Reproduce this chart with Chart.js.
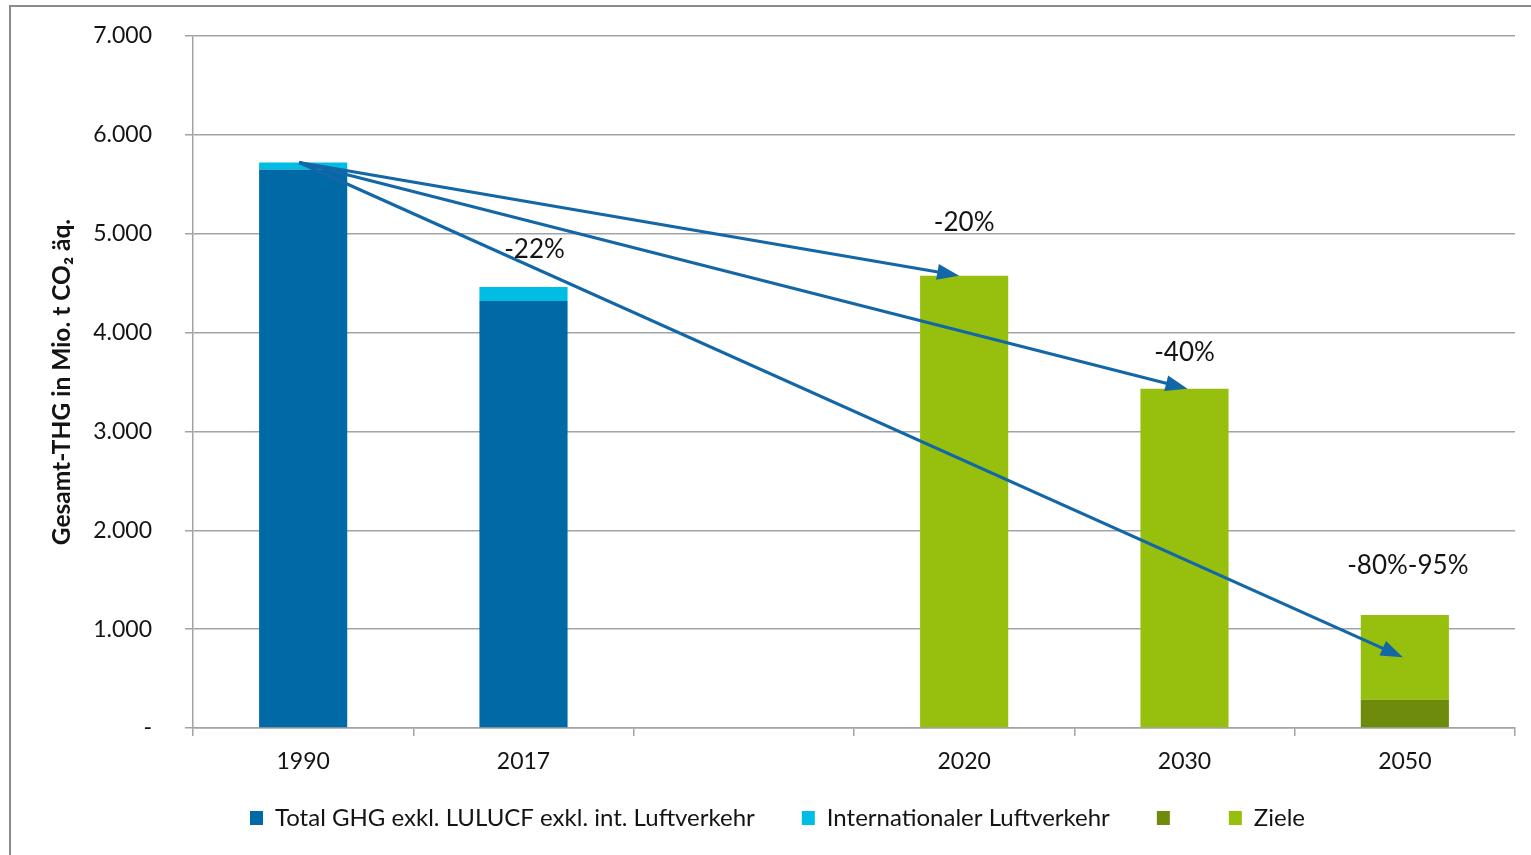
<!DOCTYPE html>
<html>
<head>
<meta charset="utf-8">
<script src="https://cdn.jsdelivr.net/npm/chart.js@4.4.0/dist/chart.umd.min.js"></script>
<style>
  html, body { margin: 0; padding: 0; background: #fff; }
  #wrap { width: 1531px; height: 855px; }
</style>
</head>
<body>
<div id="wrap"><canvas id="thgChart"></canvas></div>
<script>
// Gesamt-THG in Mio. t CO2 äq.
const years = ['1990', '2017', '', '2020', '2030', '2050'];
const totalGhg = [5650, 4320, null, null, null, null];
const intAviation = [70, 140, null, null, null, null];
const targetFloor = [null, null, null, null, null, 286];
const targets = [null, null, null, 4576, 3432, 858];
const yMax = 7000;
const yStep = 1000;

// reduction arrows from the 1990 level
const arrowYears = ['2020', '2030', '2050'];
const arrowEnds = [4576, 3432, 715];
const reductionYears = ['2017', '2020', '2030', '2050'];
const reductionTexts = ['-22%', '-20%', '-40%', '-80%-95%'];

const FONT = 'Lato, "Open Sans", sans-serif';
const TEXT = '#141414';
const GRID = '#a3a3a3';
const ARROW = '#1367a7';

const CHART_LEFT = 193;
const PAD_LEFT = 40;
const LEGEND_LIFT = 15;

function deNumber(v) {
  if (v === 0) return '-';
  return v.toLocaleString('de-DE');
}

function stackTop(i) {
  return [totalGhg, intAviation, targetFloor, targets]
    .reduce((s, arr) => s + (arr[i] || 0), 0);
}

const frame = {
  id: 'frame',
  beforeDraw(chart) {
    const ctx = chart.ctx;
    ctx.save();
    ctx.strokeStyle = '#8c8c8c';
    ctx.lineWidth = 2;
    ctx.strokeRect(10, 6, chart.width + 20, chart.height + 20);
    ctx.restore();
  }
};

// pull the legend row up a bit, closer to the axis labels
const legendLift = {
  id: 'legendLift',
  afterLayout(chart) {
    const lg = chart.legend;
    if (!lg) return;
    lg.top -= LEGEND_LIFT;
    lg.bottom -= LEGEND_LIFT;
  }
};

const arrows = {
  id: 'arrows',
  afterDatasetsDraw(chart, args, opts) {
    const ctx = chart.ctx;
    const x = chart.scales.x, y = chart.scales.y;
    const x0 = x.getPixelForValue(years.indexOf('1990')) - 4;
    const y0 = y.getPixelForValue(stackTop(years.indexOf('1990')));
    ctx.save();
    ctx.strokeStyle = ARROW;
    ctx.fillStyle = ARROW;
    ctx.lineWidth = 3.2;
    arrowYears.forEach((yr, k) => {
      const x1 = x.getPixelForValue(years.indexOf(yr)) + opts.tipShift[k];
      const y1 = y.getPixelForValue(arrowEnds[k]);
      const ang = Math.atan2(y1 - y0, x1 - x0);
      const len = 22, half = 8;
      const bx = x1 - len * Math.cos(ang), by = y1 - len * Math.sin(ang);
      ctx.beginPath();
      ctx.moveTo(x0, y0);
      ctx.lineTo(bx + 2 * Math.cos(ang), by + 2 * Math.sin(ang));
      ctx.stroke();
      ctx.beginPath();
      ctx.moveTo(x1, y1);
      ctx.lineTo(bx + half * Math.sin(ang), by - half * Math.cos(ang));
      ctx.lineTo(bx - half * Math.sin(ang), by + half * Math.cos(ang));
      ctx.closePath();
      ctx.fill();
    });

    ctx.fillStyle = TEXT;
    ctx.font = '26px ' + FONT;
    ctx.textAlign = 'center';
    ctx.textBaseline = 'middle';
    reductionYears.forEach((yr, k) => {
      const i = years.indexOf(yr);
      const [dx, dy] = opts.labelShift[k];
      ctx.fillText(reductionTexts[k],
        x.getPixelForValue(i) + dx,
        y.getPixelForValue(stackTop(i)) + dy);
    });
    ctx.restore();
  }
};

new Chart(document.getElementById('thgChart'), {
  type: 'bar',
  data: {
    labels: years,
    datasets: [
      { label: 'Total GHG exkl. LULUCF exkl. int. Luftverkehr', data: totalGhg, backgroundColor: '#0069a6' },
      { label: 'Internationaler Luftverkehr', data: intAviation, backgroundColor: '#00bde3' },
      { label: '', data: targetFloor, backgroundColor: '#6e8b0c' },
      { label: 'Ziele', data: targets, backgroundColor: '#97bf0d' }
    ]
  },
  options: {
    responsive: true,
    maintainAspectRatio: false,
    animation: false,
    layout: { padding: { left: PAD_LEFT, top: 36, right: 16, bottom: 0 } },
    datasets: {
      bar: { barPercentage: 0.4, categoryPercentage: 1, grouped: false }
    },
    scales: {
      x: {
        stacked: true,
        grid: { offset: true, drawOnChartArea: false, drawTicks: true, tickLength: 8, color: GRID, lineWidth: 1.5 },
        border: { color: GRID, width: 1.5 },
        ticks: { color: TEXT, padding: 12, font: { family: FONT, size: 23 } },
        afterFit(scale) { scale.height = 46; }
      },
      y: {
        stacked: true,
        min: 0,
        max: yMax,
        grid: { color: GRID, lineWidth: 1.5, tickLength: 8 },
        border: { color: GRID, width: 1.5 },
        ticks: {
          stepSize: yStep,
          color: TEXT,
          padding: 33,
          font: { family: FONT, size: 23 },
          callback: (v) => deNumber(v)
        },
        title: {
          display: true,
          text: 'Gesamt-THG in Mio. t CO₂ äq.',
          color: TEXT,
          padding: { top: 7, bottom: 0 },
          font: { family: FONT, size: 24.5, weight: 'bold' }
        },
        afterFit(scale) {
          scale.width = CHART_LEFT - PAD_LEFT;
          scale.paddingTop = 0;
          scale.paddingBottom = 0;
        }
      }
    },
    plugins: {
      legend: {
        position: 'bottom',
        labels: {
          boxWidth: 13,
          boxHeight: 14,
          padding: 47,
          color: TEXT,
          font: { family: FONT, size: 24 }
        }
      },
      tooltip: { enabled: false },
      arrows: {
        tipShift: [-5, 3, -2],
        labelShift: [[11, -37], [0, -53], [0, -36], [3, -49]]
      }
    }
  },
  plugins: [frame, legendLift, arrows]
});
</script>
</body>
</html>
